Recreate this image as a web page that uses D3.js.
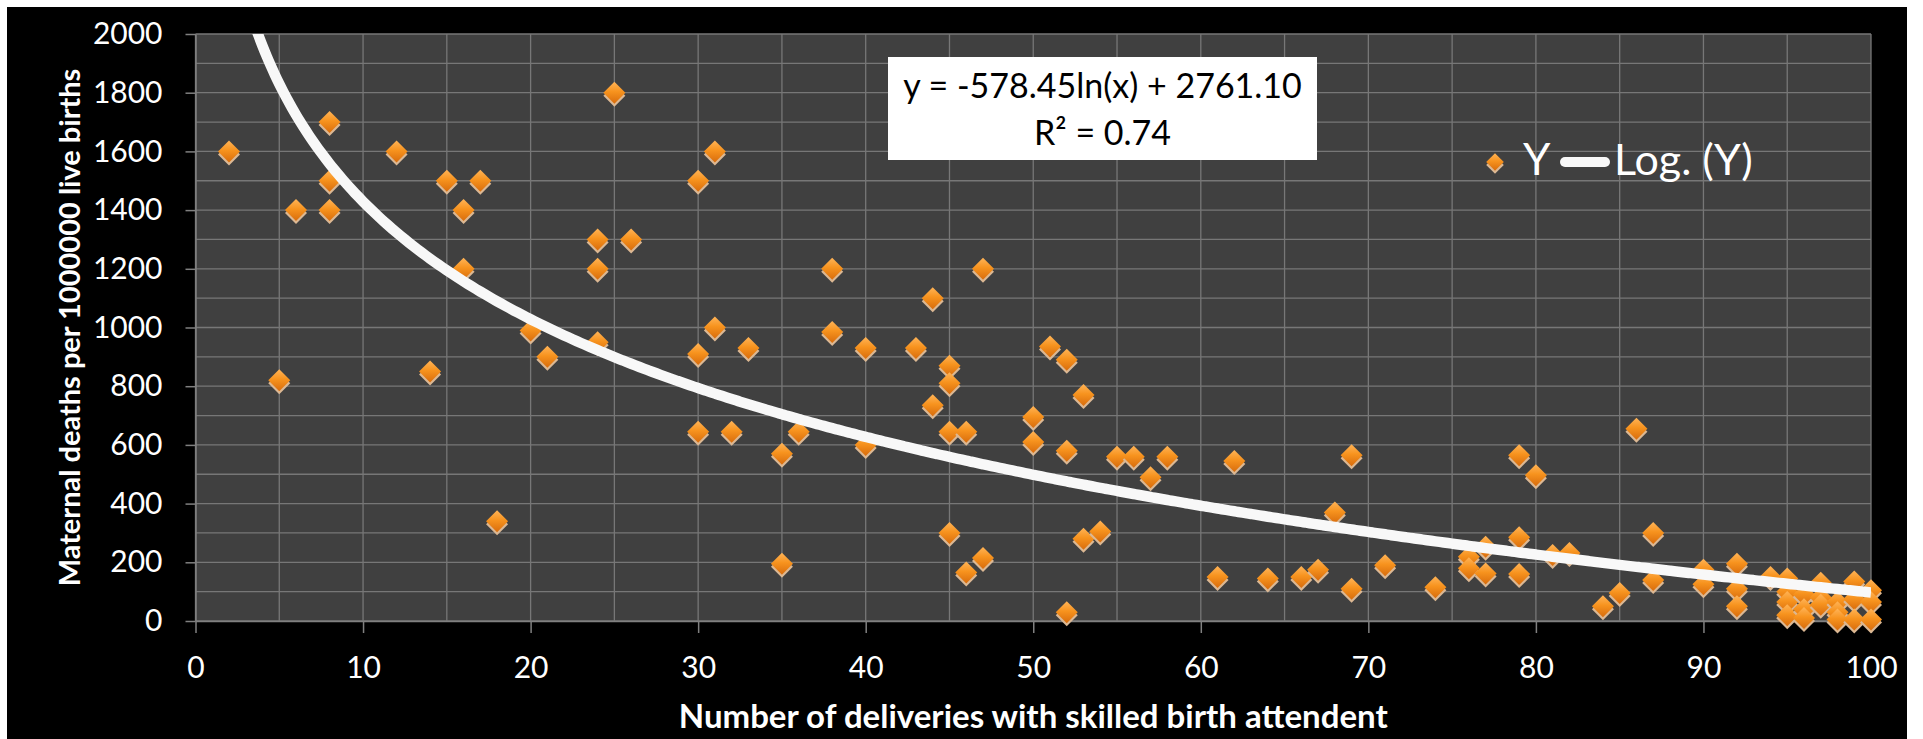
<!DOCTYPE html>
<html>
<head>
<meta charset="utf-8">
<script src="https://cdn.jsdelivr.net/npm/d3@7"></script>
<style>
  html, body { margin: 0; padding: 0; background: #fff; }
  svg { display: block; font-family: Lato, "Open Sans", sans-serif; }
</style>
</head>
<body>
<div id="chart"></div>
<script>
// Data
const skilledPct = [
  2, 5, 6, 8, 8, 8, 12, 14, 15, 16, 16, 17, 18, 20, 21, 24, 24, 24, 25, 26,
  30, 30, 30, 31, 31, 32, 33, 35, 35, 36, 38, 38, 40, 40, 43, 44, 44, 45, 45, 45,
  45, 46, 46, 47, 47, 50, 50, 51, 52, 52, 52, 53, 53, 54, 55, 56, 57, 58, 61, 62,
  64, 66, 67, 68, 69, 69, 71, 74, 76, 76, 77, 77, 79, 79, 79, 80, 81, 82, 84, 85,
  86, 87, 87, 90, 90, 92, 92, 92, 94, 95, 95, 95, 95, 96, 96, 96, 97, 97, 97, 98,
  98, 98, 99, 99, 99, 100, 100, 100
];
const maternalDeaths = [
  1600, 820, 1400, 1700, 1500, 1400, 1600, 850, 1500, 1400, 1200, 1500, 340, 990, 900, 1300, 1200, 950, 1800, 1300,
  1500, 910, 645, 1600, 1000, 645, 930, 570, 195, 645, 1200, 985, 930, 600, 930, 1100, 735, 870, 810, 645,
  300, 645, 165, 1200, 215, 695, 610, 935, 890, 580, 30, 770, 280, 305, 560, 560, 490, 560, 150, 545,
  145, 150, 175, 370, 565, 110, 190, 115, 219, 180, 253, 162, 565, 285, 160, 497, 225, 232, 50, 95,
  655, 300, 140, 175, 125, 195, 110, 50, 150, 145, 100, 65, 20, 90, 40, 10, 130, 80, 55, 65,
  30, 5, 135, 75, 5, 105, 65, 5
];

// Logarithmic trendline as printed on the chart
const trendA = -578.45;
const trendB = 2761.10;
const trendR2 = 0.74;

const xTickValues = [0, 10, 20, 30, 40, 50, 60, 70, 80, 90, 100];
const yTickValues = [0, 200, 400, 600, 800, 1000, 1200, 1400, 1600, 1800, 2000];

const W = 1923, H = 739;
const margin = {top: 34, right: 52, bottom: 118, left: 195.5};
const width = W - margin.left - margin.right;
const height = H - margin.top - margin.bottom;

const root = d3.select("#chart").append("svg")
    .attr("width", W)
    .attr("height", H);

// black chart area
root.append("rect")
    .attr("x", 7).attr("y", 7)
    .attr("width", 1900).attr("height", H - 7)
    .attr("fill", "#000");

const defs = root.append("defs");
const grad = defs.append("linearGradient")
    .attr("id", "mk").attr("x1", 0).attr("y1", 0).attr("x2", 0).attr("y2", 1);
grad.append("stop").attr("offset", "0%").attr("stop-color", "#ffb458");
grad.append("stop").attr("offset", "45%").attr("stop-color", "#f7931e");
grad.append("stop").attr("offset", "100%").attr("stop-color", "#d86c0c");

defs.append("clipPath").attr("id", "plotclip")
  .append("rect").attr("width", width).attr("height", height);

const svg = root.append("g")
    .attr("transform", `translate(${margin.left},${margin.top})`);

const x = d3.scaleLinear().domain([0, 100]).range([0, width]);
const y = d3.scaleLinear().domain([0, 2000]).range([height, 0]);

// plot background
svg.append("rect")
    .attr("width", width).attr("height", height)
    .attr("fill", "#404040");

// gridlines (major + minor)
svg.append("g").selectAll("line")
  .data(x.ticks(20))
  .join("line")
    .attr("x1", d => x(d)).attr("x2", d => x(d))
    .attr("y1", 0).attr("y2", height)
    .attr("stroke", "#777").attr("stroke-width", 1.3);

svg.append("g").selectAll("line")
  .data(y.ticks(20))
  .join("line")
    .attr("x1", 0).attr("x2", width)
    .attr("y1", d => y(d)).attr("y2", d => y(d))
    .attr("stroke", "#777").attr("stroke-width", 1.3);

// axes
const xAxis = svg.append("g")
    .attr("transform", `translate(0,${height})`)
    .call(d3.axisBottom(x).tickValues(xTickValues).tickSize(12).tickPadding(24).tickSizeOuter(0));

const yAxis = svg.append("g")
    .call(d3.axisLeft(y).tickValues(yTickValues).tickFormat(d3.format("d"))
      .tickSize(10).tickPadding(23).tickSizeOuter(0));

[xAxis, yAxis].forEach(a => {
  a.select(".domain").attr("stroke", "#808080").attr("stroke-width", 1.5);
  a.selectAll(".tick line").attr("stroke", "#808080").attr("stroke-width", 1.5);
  a.selectAll(".tick text")
      .attr("fill", "#fff")
      .style("font-family", "Lato, sans-serif")
      .style("font-size", "30px");
});

// markers
const diamond = "M0,-11 L11,0 L0,11 L-11,0 Z";
const pts = skilledPct.map((v, i) => ({x: v, y: maternalDeaths[i]}));

const marks = svg.append("g").selectAll("g")
  .data(pts)
  .join("g")
    .attr("transform", d => `translate(${x(d.x)},${y(d.y)})`);

marks.append("path")
    .attr("d", diamond)
    .attr("transform", "translate(0,3)")
    .attr("fill", "#dcb893");

marks.append("path")
    .attr("d", diamond)
    .attr("fill", "url(#mk)");

// trendline
const trendX = d3.range(2, 100.01, 0.25);
const line = d3.line()
    .x(d => x(d))
    .y(d => y(trendA * Math.log(d) + trendB))
    .curve(d3.curveMonotoneX);

svg.append("path")
    .datum(trendX)
    .attr("clip-path", "url(#plotclip)")
    .attr("fill", "none")
    .attr("stroke", "#f8f8f8")
    .attr("stroke-width", 10.5)
    .attr("d", line);

// equation box
const eq = root.append("g").attr("transform", "translate(888,57)");
eq.append("rect")
    .attr("width", 429).attr("height", 103)
    .attr("fill", "#fff");

eq.append("text")
    .attr("x", 214.5).attr("y", 41)
    .attr("text-anchor", "middle")
    .style("font-size", "34px")
    .attr("fill", "#000")
    .text(`y = ${trendA.toFixed(2)}ln(x) + ${trendB.toFixed(2)}`);

eq.append("text")
    .attr("x", 214.5).attr("y", 88)
    .attr("text-anchor", "middle")
    .style("font-size", "34px")
    .attr("fill", "#000")
    .text(`R² = ${trendR2.toFixed(2)}`);

// legend
const lg = root.append("g").attr("transform", "translate(1495,162)");
lg.append("path").attr("d", diamond).attr("transform", "translate(0,3) scale(0.8)").attr("fill", "#dcb893");
lg.append("path").attr("d", diamond).attr("transform", "scale(0.8)").attr("fill", "url(#mk)");
lg.append("text")
    .attr("x", 28).attr("y", 13)
    .attr("fill", "#fff")
    .style("font-size", "44px")
    .text("Y");
lg.append("line")
    .attr("x1", 70).attr("x2", 110)
    .attr("y1", 0).attr("y2", 0)
    .attr("stroke", "#f8f8f8")
    .attr("stroke-width", 10)
    .attr("stroke-linecap", "round");
lg.append("text")
    .attr("x", 119).attr("y", 13)
    .attr("fill", "#fff")
    .style("font-size", "43px")
    .text("Log. (Y)");

// axis titles
svg.append("text")
    .attr("x", width / 2)
    .attr("y", height + 107)
    .attr("text-anchor", "middle")
    .attr("fill", "#fff")
    .style("font-size", "33px")
    .style("font-weight", "bold")
    .text("Number of deliveries with skilled birth attendent");

svg.append("text")
    .attr("transform", "rotate(-90)")
    .attr("x", -height / 2)
    .attr("y", -116)
    .attr("text-anchor", "middle")
    .attr("fill", "#fff")
    .style("font-size", "29px")
    .style("font-weight", "bold")
    .text("Maternal deaths per 1000000 live births");
</script>
</body>
</html>
